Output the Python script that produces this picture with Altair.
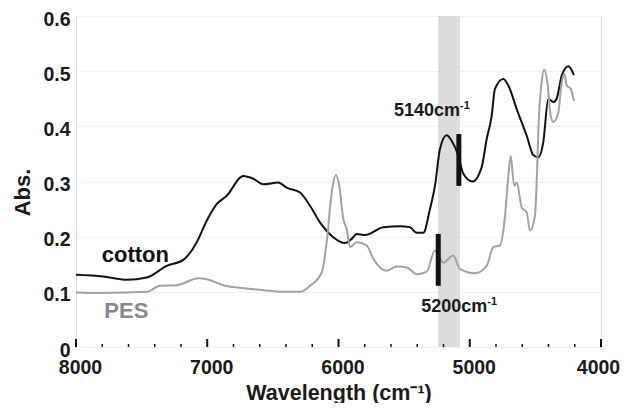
import altair as alt
import pandas as pd

# ---- data ----
cotton_wn = [8000, 7794, 7614, 7461, 7309, 7182, 7080, 7004, 6928, 6852, 6725, 6649, 6573,
             6459, 6395, 6293, 6217, 6141, 6040, 5950, 5899, 5861, 5798, 5659, 5531, 5455,
             5404, 5354, 5303, 5265, 5227, 5176, 5138, 5087, 5049, 4978, 4909, 4871, 4833,
             4808, 4744, 4706, 4642, 4566, 4516, 4478, 4440, 4401, 4363, 4338, 4299, 4249, 4206]
cotton_abs = [0.131, 0.128, 0.122, 0.126, 0.147, 0.158, 0.190, 0.229, 0.259, 0.274, 0.310, 0.305, 0.295,
              0.298, 0.289, 0.280, 0.256, 0.226, 0.199, 0.1885, 0.196, 0.205, 0.203, 0.217, 0.219, 0.217,
              0.207, 0.207, 0.250, 0.292, 0.359, 0.384, 0.374, 0.347, 0.314, 0.300, 0.326, 0.377, 0.419,
              0.468, 0.486, 0.474, 0.431, 0.383, 0.348, 0.344, 0.371, 0.450, 0.444, 0.450, 0.492, 0.509, 0.493]

pes_wn = [8000, 7792, 7461, 7360, 7233, 7068, 7004, 6878, 6699, 6522, 6421, 6293, 6217, 6128,
          6090, 6052, 6019, 5994, 5963, 5938, 5912, 5861, 5785, 5735, 5633, 5557, 5480, 5404,
          5328, 5265, 5202, 5126, 5074, 4960, 4871, 4821, 4770, 4731, 4706, 4688, 4661, 4642,
          4604, 4566, 4541, 4503, 4485, 4478, 4452, 4434, 4409, 4383, 4363, 4325, 4299, 4279,
          4261, 4231, 4206]
pes_abs = [0.099, 0.098, 0.100, 0.111, 0.112, 0.1245, 0.123, 0.112, 0.106, 0.102, 0.100, 0.100, 0.111, 0.135,
           0.190, 0.280, 0.312, 0.292, 0.232, 0.214, 0.181, 0.190, 0.184, 0.160, 0.138, 0.146, 0.144, 0.132,
           0.1365, 0.175, 0.153, 0.166, 0.141, 0.1335, 0.147, 0.181, 0.184, 0.238, 0.310, 0.346, 0.292, 0.298,
           0.253, 0.244, 0.211, 0.238, 0.335, 0.389, 0.480, 0.503, 0.480, 0.419, 0.408, 0.425, 0.480, 0.495,
           0.474, 0.468, 0.446]

band_from, band_to = 5242, 5075
marker_wn = [5083, 5240]
marker_lo = [0.292, 0.111]
marker_hi = [0.386, 0.205]

major_ticks = [4000, 5000, 6000, 7000, 8000]
minor_ticks = [w for w in range(4000, 8001, 200) if w % 1000 != 0]

# ---- tables ----
df = pd.concat([
    pd.DataFrame({"wn": cotton_wn, "abs": cotton_abs, "s": "cotton"}),
    pd.DataFrame({"wn": pes_wn, "abs": pes_abs, "s": "PES"}),
])
band = pd.DataFrame({"x": [band_from], "x2": [band_to], "y": [0.0], "y2": [0.6]})
markers = pd.DataFrame({"wn": marker_wn, "lo": marker_lo, "hi": marker_hi})
majors = pd.DataFrame({"wn": major_ticks})
minors = pd.DataFrame({"wn": minor_ticks})

W, H = 525, 331
FONT = "Liberation Sans"

xscale = alt.Scale(domain=[4000, 8000], reverse=True, nice=False)
yscale = alt.Scale(domain=[0, 0.6], nice=False)

xaxis = alt.Axis(values=major_ticks, format="d", ticks=False, domain=False, grid=False,
                 labelFont=FONT, labelFontSize=19.5, labelFontWeight="bold", labelColor="#1a1a1a",
                 labelPadding=11,
                 labelOffset={"condition": {"test": "datum.value == 4000", "value": -3}, "value": 4},
                 labelFlush=False,
                 title="Wavelength (cm⁻¹)", titleFont=FONT, titleFontSize=21.5, titleFontWeight="bold",
                 titleColor="#1a1a1a", titleBaseline="alphabetic", titleY=52)
yaxis = alt.Axis(values=[0, 0.1, 0.2, 0.3, 0.4, 0.5, 0.6], ticks=False, domain=False,
                 grid=True, gridColor="#f0f0f0", gridWidth=1,
                 labelExpr="datum.value == 0 ? '0' : format(datum.value, '.1f')",
                 labelFont=FONT, labelFontSize=19.5, labelFontWeight="bold", labelColor="#1a1a1a",
                 labelPadding=6, labelOffset=3, labelFlush=False,
                 title="Abs.", titleFont=FONT, titleFontSize=22, titleFontWeight="bold",
                 titleColor="#1a1a1a", titleAngle=270, titleAlign="center", titleBaseline="middle",
                 titleX=-54, titleY=176)

band_layer = alt.Chart(band).mark_rect(color="#dcdcdc").encode(
    x=alt.X("x:Q", scale=xscale, axis=xaxis),
    x2="x2:Q",
    y=alt.Y("y:Q", scale=yscale, axis=yaxis),
    y2="y2:Q",
)

lines = alt.Chart(df).mark_line(strokeWidth=2, interpolate="monotone").encode(
    x=alt.X("wn:Q", scale=xscale),
    y=alt.Y("abs:Q", scale=yscale),
    color=alt.Color("s:N", scale=alt.Scale(domain=["PES", "cotton"], range=["#a2a2a2", "#111111"]),
                    legend=None),
    order=alt.Order("wn:Q", sort="descending"),
    detail="s:N",
)

marker_layer = alt.Chart(markers).mark_rule(strokeWidth=5, color="#111111").encode(
    x=alt.X("wn:Q", scale=xscale), y=alt.Y("lo:Q", scale=yscale), y2="hi:Q")

major_layer = alt.Chart(majors).mark_rule(strokeWidth=2, color="#111111").encode(
    x=alt.X("wn:Q", scale=xscale), y=alt.value(H), y2=alt.value(H - 8))
minor_layer = alt.Chart(minors).mark_rule(strokeWidth=1.5, color="#111111").encode(
    x=alt.X("wn:Q", scale=xscale), y=alt.value(H), y2=alt.value(H - 3))

# text annotations
labels = pd.DataFrame({
    "wn": [7804, 7784],
    "y": [0.1535, 0.0526],
    "t": ["cotton", "PES"],
    "c": ["#111111", "#888888"],
})
name_layer = alt.Chart(labels).mark_text(font=FONT, fontSize=22, fontWeight="bold",
                                         align="left", baseline="alphabetic").encode(
    x=alt.X("wn:Q", scale=xscale), y=alt.Y("y:Q", scale=yscale),
    text="t:N", color=alt.Color("c:N", scale=None))

ann = pd.DataFrame({"wn": [5074, 4866], "y": [0.419, 0.064], "t": ["5140cm", "5200cm"]})
ann_main = alt.Chart(ann).mark_text(font=FONT, fontSize=18, fontWeight="bold", color="#1a1a1a",
                                    align="right", baseline="alphabetic").encode(
    x=alt.X("wn:Q", scale=xscale), y=alt.Y("y:Q", scale=yscale), text="t:N")
ann_sup = alt.Chart(ann).mark_text(font=FONT, fontSize=11, fontWeight="bold", color="#1a1a1a",
                                   align="left", baseline="alphabetic", dy=-7).encode(
    x=alt.X("wn:Q", scale=xscale), y=alt.Y("y:Q", scale=yscale), text=alt.value("-1"))

chart = alt.layer(
    band_layer, lines, marker_layer, major_layer, minor_layer, name_layer, ann_main, ann_sup
).properties(
    width=W, height=H,
    autosize=alt.AutoSizeParams(type="none"),
    padding={"left": 68, "top": 8, "right": 20, "bottom": 56},
).configure_view(stroke="#1a1a1a", strokeWidth=2).configure(background="white")

chart.save("out.html", embed_options={"renderer": "svg", "actions": False})
